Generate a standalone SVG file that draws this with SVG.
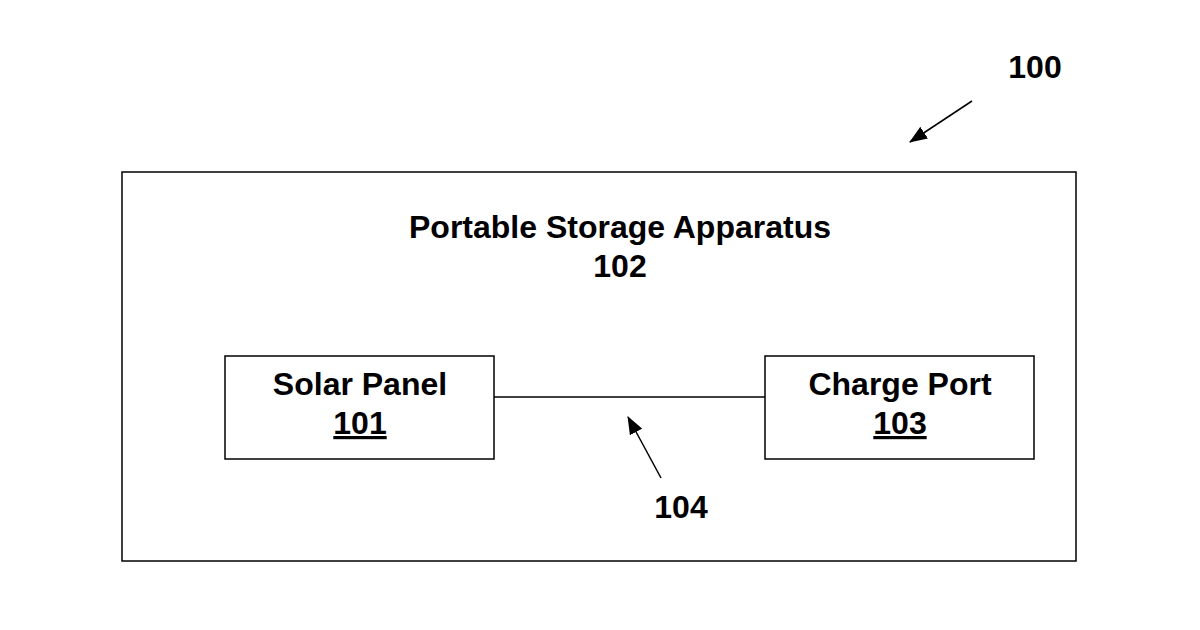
<svg xmlns="http://www.w3.org/2000/svg" width="1200" height="630" viewBox="0 0 1200 630">
<style>
rect{fill:#fff;stroke:#000;stroke-width:1.5}
text{font-family:"Liberation Sans",Arial,sans-serif;font-weight:bold;font-size:32px;text-anchor:middle;fill:#000}
.c{stroke:#000;stroke-width:1.5;fill:none}
</style>
<defs><marker id="ah" markerWidth="18" markerHeight="14" refX="17" refY="7" orient="auto" markerUnits="userSpaceOnUse"><path d="M0,0 L18,7 L0,14 Z" fill="#000"/></marker></defs>
<rect width="1200" height="630" style="stroke:none"/>
<g id="n102"><rect x="122" y="172" width="954" height="389"/><text x="620" y="238">Portable Storage Apparatus</text><text x="620" y="277">102</text></g>
<g id="n101"><rect x="225" y="356" width="269" height="103"/><text x="360" y="395">Solar Panel</text><text x="360" y="434" text-decoration="underline">101</text></g>
<g id="n103"><rect x="765" y="356" width="269" height="103"/><text x="900" y="395">Charge Port</text><text x="900" y="434" text-decoration="underline">103</text></g>
<g id="connectors">
<line class="c" x1="661" y1="478" x2="628" y2="417" marker-end="url(#ah)"/>
<line class="c" x1="494" y1="397" x2="765" y2="397"/>
<line class="c" x1="972" y1="101" x2="910" y2="142" marker-end="url(#ah)"/>
</g>
<text x="681" y="518">104</text>
<text x="1035" y="78">100</text>
</svg>
